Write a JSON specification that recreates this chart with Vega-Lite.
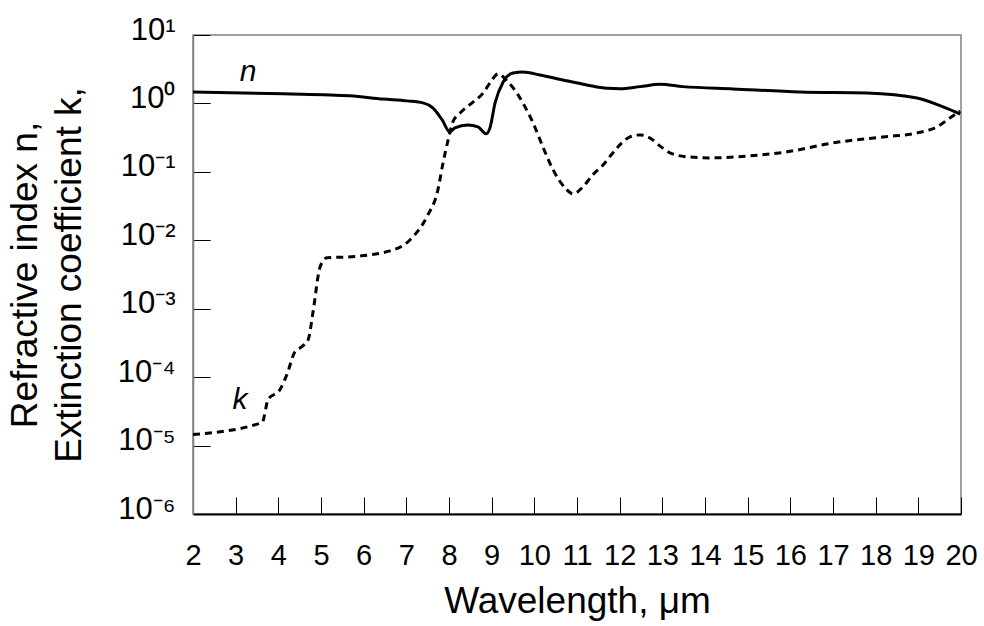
{
  "$schema": "https://vega.github.io/schema/vega-lite/v6.json",
  "autosize": "none",
  "width": 768,
  "height": 479,
  "padding": {"left": 193, "top": 35, "right": 23, "bottom": 112},
  "background": "white",
  "config": {
    "font": "Liberation Sans",
    "view": {"stroke": "#808080", "strokeWidth": 1.5},
    "axis": {"grid": false}
  },
  "datasets": {
    "curves": [
      {"w": 2.0, "v": 1.47, "s": "n"},
      {"w": 4.11, "v": 1.38, "s": "n"},
      {"w": 5.68, "v": 1.29, "s": "n"},
      {"w": 6.45, "v": 1.16, "s": "n"},
      {"w": 7.02, "v": 1.09, "s": "n"},
      {"w": 7.39, "v": 1.02, "s": "n"},
      {"w": 7.62, "v": 0.86, "s": "n"},
      {"w": 7.84, "v": 0.574, "s": "n"},
      {"w": 8.02, "v": 0.384, "s": "n"},
      {"w": 8.14, "v": 0.439, "s": "n"},
      {"w": 8.44, "v": 0.485, "s": "n"},
      {"w": 8.68, "v": 0.454, "s": "n"},
      {"w": 8.87, "v": 0.359, "s": "n"},
      {"w": 8.96, "v": 0.439, "s": "n"},
      {"w": 9.08, "v": 1.02, "s": "n"},
      {"w": 9.27, "v": 2.06, "s": "n"},
      {"w": 9.5, "v": 2.79, "s": "n"},
      {"w": 9.73, "v": 2.88, "s": "n"},
      {"w": 10.13, "v": 2.61, "s": "n"},
      {"w": 10.67, "v": 2.2, "s": "n"},
      {"w": 11.23, "v": 1.86, "s": "n"},
      {"w": 11.7, "v": 1.66, "s": "n"},
      {"w": 12.01, "v": 1.64, "s": "n"},
      {"w": 12.48, "v": 1.76, "s": "n"},
      {"w": 12.94, "v": 1.9, "s": "n"},
      {"w": 13.48, "v": 1.76, "s": "n"},
      {"w": 14.66, "v": 1.63, "s": "n"},
      {"w": 16.23, "v": 1.47, "s": "n"},
      {"w": 17.8, "v": 1.42, "s": "n"},
      {"w": 18.97, "v": 1.2, "s": "n"},
      {"w": 19.58, "v": 0.89, "s": "n"},
      {"w": 19.98, "v": 0.7, "s": "n"},
      {"w": 2.0, "v": 1.45e-5, "s": "k"},
      {"w": 3.62, "v": 2.17e-5, "s": "k"},
      {"w": 3.76, "v": 4.7e-5, "s": "k"},
      {"w": 4.04, "v": 6.6e-5, "s": "k"},
      {"w": 4.2, "v": 1.09e-4, "s": "k"},
      {"w": 4.39, "v": 2.35e-4, "s": "k"},
      {"w": 4.55, "v": 2.79e-4, "s": "k"},
      {"w": 4.7, "v": 3.52e-4, "s": "k"},
      {"w": 4.81, "v": 8.7e-4, "s": "k"},
      {"w": 4.98, "v": 4.1e-3, "s": "k"},
      {"w": 5.14, "v": 5.56e-3, "s": "k"},
      {"w": 5.61, "v": 5.7e-3, "s": "k"},
      {"w": 6.62, "v": 7.0e-3, "s": "k"},
      {"w": 7.09, "v": 1.02e-2, "s": "k"},
      {"w": 7.48, "v": 2.2e-2, "s": "k"},
      {"w": 7.74, "v": 0.0546, "s": "k"},
      {"w": 7.86, "v": 0.135, "s": "k"},
      {"w": 7.98, "v": 0.293, "s": "k"},
      {"w": 8.09, "v": 0.537, "s": "k"},
      {"w": 8.26, "v": 0.726, "s": "k"},
      {"w": 8.54, "v": 1.02, "s": "k"},
      {"w": 8.8, "v": 1.42, "s": "k"},
      {"w": 8.96, "v": 1.99, "s": "k"},
      {"w": 9.15, "v": 2.7, "s": "k"},
      {"w": 9.36, "v": 2.13, "s": "k"},
      {"w": 9.59, "v": 1.42, "s": "k"},
      {"w": 9.73, "v": 1.02, "s": "k"},
      {"w": 9.97, "v": 0.519, "s": "k"},
      {"w": 10.2, "v": 0.232, "s": "k"},
      {"w": 10.44, "v": 0.107, "s": "k"},
      {"w": 10.72, "v": 0.0583, "s": "k"},
      {"w": 10.91, "v": 0.0477, "s": "k"},
      {"w": 11.14, "v": 0.0604, "s": "k"},
      {"w": 11.37, "v": 0.0904, "s": "k"},
      {"w": 11.61, "v": 0.126, "s": "k"},
      {"w": 11.84, "v": 0.189, "s": "k"},
      {"w": 12.05, "v": 0.265, "s": "k"},
      {"w": 12.24, "v": 0.324, "s": "k"},
      {"w": 12.48, "v": 0.347, "s": "k"},
      {"w": 12.71, "v": 0.313, "s": "k"},
      {"w": 12.94, "v": 0.24, "s": "k"},
      {"w": 13.18, "v": 0.189, "s": "k"},
      {"w": 13.58, "v": 0.166, "s": "k"},
      {"w": 14.12, "v": 0.16, "s": "k"},
      {"w": 15.05, "v": 0.171, "s": "k"},
      {"w": 15.92, "v": 0.196, "s": "k"},
      {"w": 17.0, "v": 0.265, "s": "k"},
      {"w": 18.17, "v": 0.324, "s": "k"},
      {"w": 18.97, "v": 0.371, "s": "k"},
      {"w": 19.44, "v": 0.454, "s": "k"},
      {"w": 19.74, "v": 0.614, "s": "k"},
      {"w": 19.98, "v": 0.778, "s": "k"}
    ],
    "labels": [
      {"w": 3.29, "v": 2.88, "t": "n"},
      {"w": 3.1, "v": 4.7e-5, "t": "k"}
    ]
  },
  "layer": [
    {
      "data": {"name": "curves"},
      "transform": [{"filter": "datum.s === 'n'"}],
      "mark": {"type": "line", "color": "black", "strokeWidth": 3, "interpolate": "monotone", "clip": true},
      "encoding": {
        "x": {
          "field": "w", "type": "quantitative",
          "scale": {"domain": [2, 20], "nice": false, "zero": false},
          "axis": {
            "values": [2,3,4,5,6,7,8,9,10,11,12,13,14,15,16,17,18,19,20],
            "title": "Wavelength, μm",
            "titleFontSize": 37, "titleFontWeight": "normal", "titleColor": "black",
            "titlePadding": 13,
            "labelFontSize": 29, "labelColor": "black", "labelPadding": 44,
            "labelFlush": false, "labelOverlap": false,
            "tickSize": -17, "tickColor": "black", "tickWidth": 1,
            "domainColor": "black", "domainWidth": 2
          }
        },
        "y": {
          "field": "v", "type": "quantitative",
          "scale": {"type": "log", "domain": [1e-6, 10], "nice": false},
          "axis": {
            "values": [1e-6, 1e-5, 1e-4, 1e-3, 1e-2, 1e-1, 1, 10],
            "labelExpr": "datum.value > 5 ? '10¹' : datum.value > 0.5 ? '10⁰' : datum.value > 0.05 ? '10⁻¹' : datum.value > 0.005 ? '10⁻²' : datum.value > 0.0005 ? '10⁻³' : datum.value > 0.00005 ? '10⁻⁴' : datum.value > 0.000005 ? '10⁻⁵' : '10⁻⁶'",
            "title": ["Refractive index n,", "Extinction coefficient k,"],
            "titleFontSize": 37, "titleFontWeight": "normal", "titleColor": "black",
            "titleLineHeight": 44, "titleX": -168, "titleY": 239.5,
            "titleAngle": -90, "titleAlign": "center", "titleBaseline": "middle",
            "labelFontSize": 31, "labelColor": "black", "labelPadding": 35,
            "labelFlush": false, "labelOverlap": false, "labelOffset": -5,
            "tickSize": -17, "tickColor": "black", "tickWidth": 1,
            "domainColor": "#808080", "domainWidth": 1.5
          }
        }
      }
    },
    {
      "data": {"name": "curves"},
      "transform": [{"filter": "datum.s === 'k'"}],
      "mark": {"type": "line", "color": "black", "strokeWidth": 3, "strokeDash": [7, 5], "interpolate": "monotone", "clip": true},
      "encoding": {
        "x": {"field": "w", "type": "quantitative"},
        "y": {"field": "v", "type": "quantitative"}
      }
    },
    {
      "data": {"name": "labels"},
      "mark": {"type": "text", "fontSize": 30, "fontStyle": "italic", "color": "black", "align": "center", "baseline": "middle"},
      "encoding": {
        "x": {"field": "w", "type": "quantitative"},
        "y": {"field": "v", "type": "quantitative"},
        "text": {"field": "t"}
      }
    }
  ]
}
